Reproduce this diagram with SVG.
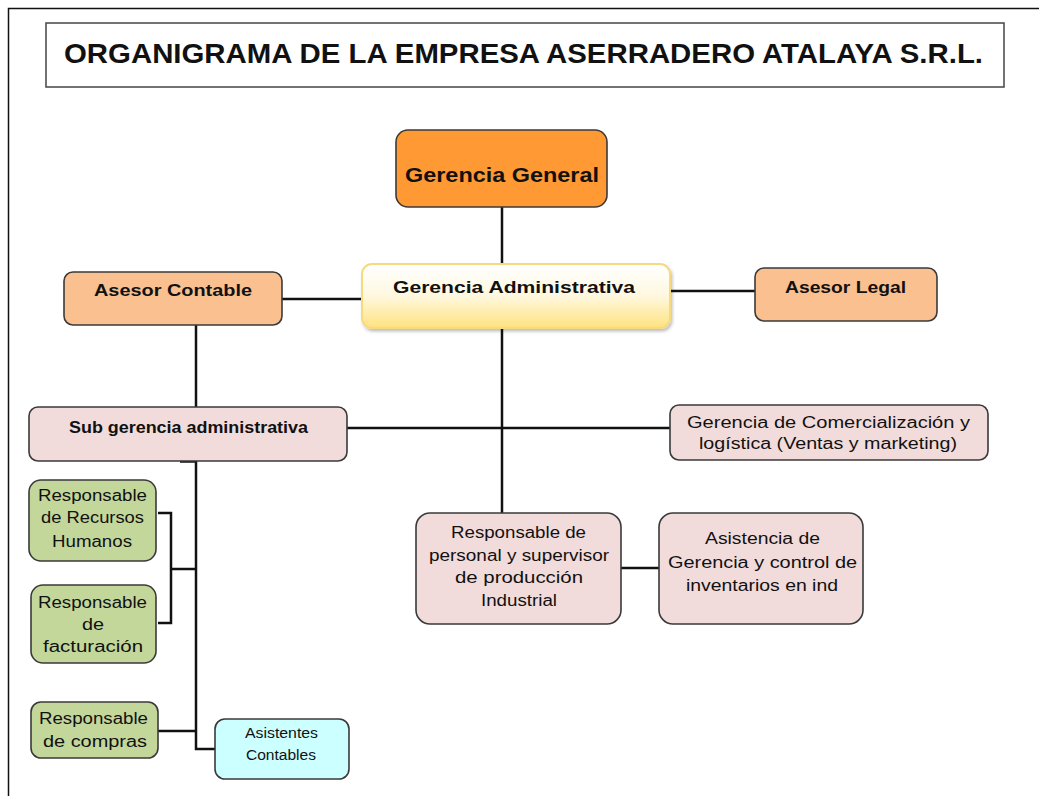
<svg xmlns="http://www.w3.org/2000/svg" width="1039" height="796" viewBox="0 0 1039 796">
<style>
  .t { font-family: "Liberation Sans", Arial, sans-serif; fill: #111; text-anchor: middle; }
  .b { font-weight: bold; }
  .box { stroke: #3a3a3a; stroke-width: 1.6; }
  .orange { fill: #FF9933; }
  .peach { fill: #FAC090; }
  .pink { fill: #F2DCDB; }
  .green { fill: #C4D79B; }
  .cyan { fill: #CCFFFF; }
  .conn line, .conn path { stroke: #111; stroke-width: 2.5; fill: none; }
</style>
<defs>
  <linearGradient id="admGrad" x1="0" y1="0" x2="0" y2="1">
    <stop offset="0" stop-color="#FFFFFF"/>
    <stop offset="0.5" stop-color="#FFF8DF"/>
    <stop offset="1" stop-color="#FFE27F"/>
  </linearGradient>
  <filter id="sh" x="-10%" y="-10%" width="130%" height="140%">
    <feDropShadow dx="1.5" dy="2.5" stdDeviation="1.5" flood-color="#000" flood-opacity="0.25"/>
  </filter>
</defs>
<rect x="0" y="0" width="1039" height="796" fill="#FFFFFF"/>
<path d="M8.5,796 V8.5 H1039" fill="none" stroke="#111" stroke-width="1.5"/>

<g id="title">
  <rect x="46" y="23" width="958" height="64" fill="#FFFFFF" stroke="#444" stroke-width="1.5"/>
  <text class="t b" x="523.5" y="63" font-size="28" textLength="919" lengthAdjust="spacingAndGlyphs">ORGANIGRAMA DE LA EMPRESA ASERRADERO ATALAYA S.R.L.</text>
</g>

<g class="conn" id="connectors">
  <line x1="502" y1="207" x2="502" y2="264"/>
  <line x1="282" y1="299" x2="362" y2="299"/>
  <line x1="670" y1="291" x2="755" y2="291"/>
  <line x1="502" y1="328" x2="502" y2="513"/>
  <line x1="196" y1="325" x2="196" y2="407"/>
  <line x1="347" y1="428" x2="670" y2="428"/>
  <line x1="180" y1="461.5" x2="196" y2="461.5"/>
  <path d="M196,461 V749 H215"/>
  <path d="M158,513 H171 V623 H158"/>
  <line x1="171" y1="569" x2="196" y2="569"/>
  <line x1="158" y1="731" x2="196" y2="731"/>
  <line x1="621" y1="568" x2="659" y2="568"/>
</g>

<g id="gerencia-general">
  <rect class="box orange" x="396" y="130" width="211" height="77" rx="12"/>
  <text class="t b" x="502" y="182" font-size="20" textLength="194" lengthAdjust="spacingAndGlyphs">Gerencia General</text>
</g>

<g id="gerencia-administrativa">
  <rect x="362" y="264" width="308" height="64" rx="10" fill="url(#admGrad)" stroke="#F7DA7E" stroke-width="2" filter="url(#sh)"/>
  <text class="t b" x="514" y="293" font-size="17" textLength="242" lengthAdjust="spacingAndGlyphs">Gerencia Administrativa</text>
</g>

<g id="asesor-contable">
  <rect class="box peach" x="64" y="272" width="218" height="53" rx="9"/>
  <text class="t b" x="173" y="296" font-size="17" textLength="158" lengthAdjust="spacingAndGlyphs">Asesor Contable</text>
</g>

<g id="asesor-legal">
  <rect class="box peach" x="755" y="268" width="182" height="53" rx="9"/>
  <text class="t b" x="845.5" y="293" font-size="17" textLength="121" lengthAdjust="spacingAndGlyphs">Asesor Legal</text>
</g>

<g id="sub-gerencia">
  <rect class="box pink" x="29" y="407" width="318" height="54" rx="9"/>
  <text class="t b" x="188.5" y="433" font-size="16" textLength="239" lengthAdjust="spacingAndGlyphs">Sub gerencia administrativa</text>
</g>

<g id="gerencia-comercializacion">
  <rect class="box pink" x="670" y="405" width="318" height="55" rx="9"/>
  <text class="t" x="828.5" y="428" font-size="16" textLength="283" lengthAdjust="spacingAndGlyphs">Gerencia de Comercialización y</text>
  <text class="t" x="828" y="449" font-size="16" textLength="258" lengthAdjust="spacingAndGlyphs">logística (Ventas y marketing)</text>
</g>

<g id="responsable-personal">
  <rect class="box pink" x="416" y="513" width="205" height="111" rx="14"/>
  <text class="t" x="518.5" y="538" font-size="16" textLength="135" lengthAdjust="spacingAndGlyphs">Responsable de</text>
  <text class="t" x="519" y="561" font-size="16" textLength="180" lengthAdjust="spacingAndGlyphs">personal y supervisor</text>
  <text class="t" x="519" y="583" font-size="16" textLength="128" lengthAdjust="spacingAndGlyphs">de producción</text>
  <text class="t" x="519" y="606" font-size="16" textLength="76" lengthAdjust="spacingAndGlyphs">Industrial</text>
</g>

<g id="asistencia-gerencia">
  <rect class="box pink" x="659" y="513" width="204" height="111" rx="14"/>
  <text class="t" x="762.5" y="544" font-size="16" textLength="115" lengthAdjust="spacingAndGlyphs">Asistencia de</text>
  <text class="t" x="762.5" y="568" font-size="16" textLength="189" lengthAdjust="spacingAndGlyphs">Gerencia y control de</text>
  <text class="t" x="762" y="591" font-size="16" textLength="152" lengthAdjust="spacingAndGlyphs">inventarios en ind</text>
</g>

<g id="resp-rrhh">
  <rect class="box green" x="29" y="480" width="127" height="81" rx="12"/>
  <text class="t" x="92.5" y="501" font-size="16" textLength="109" lengthAdjust="spacingAndGlyphs">Responsable</text>
  <text class="t" x="92.5" y="523" font-size="16" textLength="103" lengthAdjust="spacingAndGlyphs">de Recursos</text>
  <text class="t" x="92" y="547" font-size="16" textLength="80" lengthAdjust="spacingAndGlyphs">Humanos</text>
</g>

<g id="resp-facturacion">
  <rect class="box green" x="31" y="585" width="125" height="78" rx="12"/>
  <text class="t" x="92.5" y="608" font-size="16" textLength="109" lengthAdjust="spacingAndGlyphs">Responsable</text>
  <text class="t" x="93" y="630" font-size="16" textLength="22" lengthAdjust="spacingAndGlyphs">de</text>
  <text class="t" x="93" y="652" font-size="16" textLength="100" lengthAdjust="spacingAndGlyphs">facturación</text>
</g>

<g id="resp-compras">
  <rect class="box green" x="31" y="702" width="127" height="56" rx="10"/>
  <text class="t" x="93.5" y="724" font-size="16" textLength="109" lengthAdjust="spacingAndGlyphs">Responsable</text>
  <text class="t" x="95" y="747" font-size="16" textLength="104" lengthAdjust="spacingAndGlyphs">de compras</text>
</g>

<g id="asistentes-contables">
  <rect class="box cyan" x="215" y="719" width="134" height="60" rx="10"/>
  <text class="t" x="281.5" y="738" font-size="14" textLength="73" lengthAdjust="spacingAndGlyphs">Asistentes</text>
  <text class="t" x="281" y="760" font-size="14" textLength="70" lengthAdjust="spacingAndGlyphs">Contables</text>
</g>
</svg>
